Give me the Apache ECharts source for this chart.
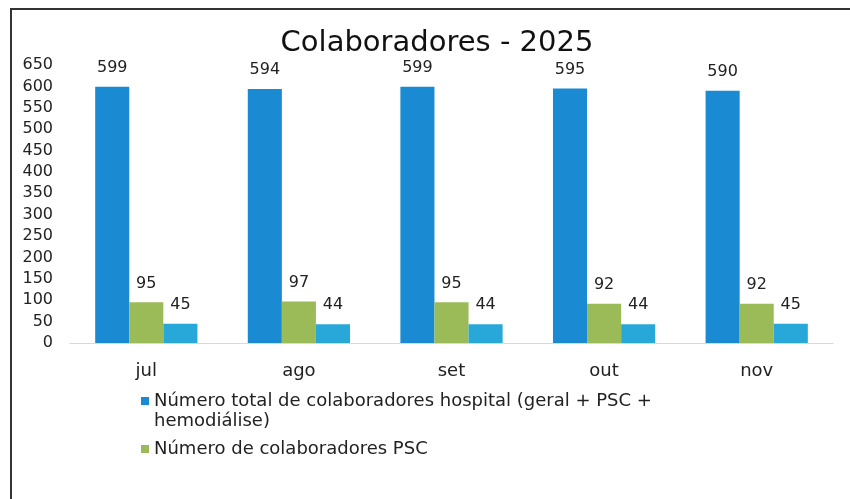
<!DOCTYPE html>
<html>
<head>
<meta charset="utf-8">
<script src="https://cdn.jsdelivr.net/npm/echarts@6/dist/echarts.min.js"></script>
<style>
  html, body { margin: 0; padding: 0; background: #fff; }
  #chart { width: 850px; height: 499px; }
</style>
</head>
<body>
<div id="chart"></div>
<script>
// dados
const meses = ['jul', 'ago', 'set', 'out', 'nov'];
const totalHospital = [599, 594, 599, 595, 590];
const colaboradoresPSC = [95, 97, 95, 92, 92];
const colaboradoresHemo = [45, 44, 44, 44, 45];
const yTicks = { min: 0, max: 650, step: 50 };

const nomeTotal = 'Número total de colaboradores hospital (geral + PSC + hemodiálise)';
const nomePSC = 'Número de colaboradores PSC';
const nomeHemo = 'Número de colaboradores hemodiálise';

const fonte = 'DejaVu Sans';
const chart = echarts.init(document.getElementById('chart'));

const rotulo = {
  show: true,
  position: 'top',
  distance: 11,
  color: '#222',
  fontFamily: fonte,
  fontSize: 16
};

chart.setOption({
  backgroundColor: '#fff',
  animation: false,
  title: {
    text: 'Colaboradores - 2025',
    left: 432,
    textAlign: 'center',
    top: 24,
    textStyle: { fontFamily: fonte, fontSize: 29, fontWeight: 'normal', color: '#111' }
  },
  graphic: [
    { type: 'line', shape: { x1: 10, y1: 9, x2: 850, y2: 9 }, style: { stroke: '#333', lineWidth: 2 } },
    { type: 'line', shape: { x1: 11, y1: 9, x2: 11, y2: 499 }, style: { stroke: '#333', lineWidth: 2 } }
  ],
  legend: {
    orient: 'vertical',
    left: 136,
    top: 366,
    itemWidth: 8,
    itemHeight: 8,
    itemGap: 8,
    icon: 'rect',
    data: [nomeTotal, nomePSC],
    // linha vazia no início para o ícone ficar alinhado com a 1ª linha
    formatter: (name) => name === nomeTotal
      ? '\nNúmero total de colaboradores hospital (geral + PSC +\nhemodiálise)'
      : name,
    textStyle: { fontFamily: fonte, fontSize: 18, lineHeight: 20, color: '#222' }
  },
  grid: { left: 70, right: 17, top: 65, bottom: 156 },
  xAxis: {
    type: 'category',
    data: meses,
    axisLine: { lineStyle: { color: '#d9d9d9' } },
    axisTick: { show: false },
    axisLabel: { fontFamily: fonte, fontSize: 18, color: '#222', margin: 19 }
  },
  yAxis: {
    type: 'value',
    min: yTicks.min,
    max: yTicks.max,
    interval: yTicks.step,
    axisLine: { show: false },
    axisTick: { show: false },
    splitLine: { show: false },
    axisLabel: { fontFamily: fonte, fontSize: 16, color: '#222', margin: 17 }
  },
  series: [
    { name: nomeTotal, type: 'bar', data: totalHospital, barGap: '0%', barCategoryGap: '33%',
      itemStyle: { color: '#1a8bd2' }, label: rotulo },
    { name: nomePSC, type: 'bar', data: colaboradoresPSC, barGap: '0%', barCategoryGap: '33%',
      itemStyle: { color: '#9bbb59' }, label: rotulo },
    { name: nomeHemo, type: 'bar', data: colaboradoresHemo, barGap: '0%', barCategoryGap: '33%',
      itemStyle: { color: '#27a8d8' }, label: rotulo }
  ]
});
</script>
</body>
</html>
